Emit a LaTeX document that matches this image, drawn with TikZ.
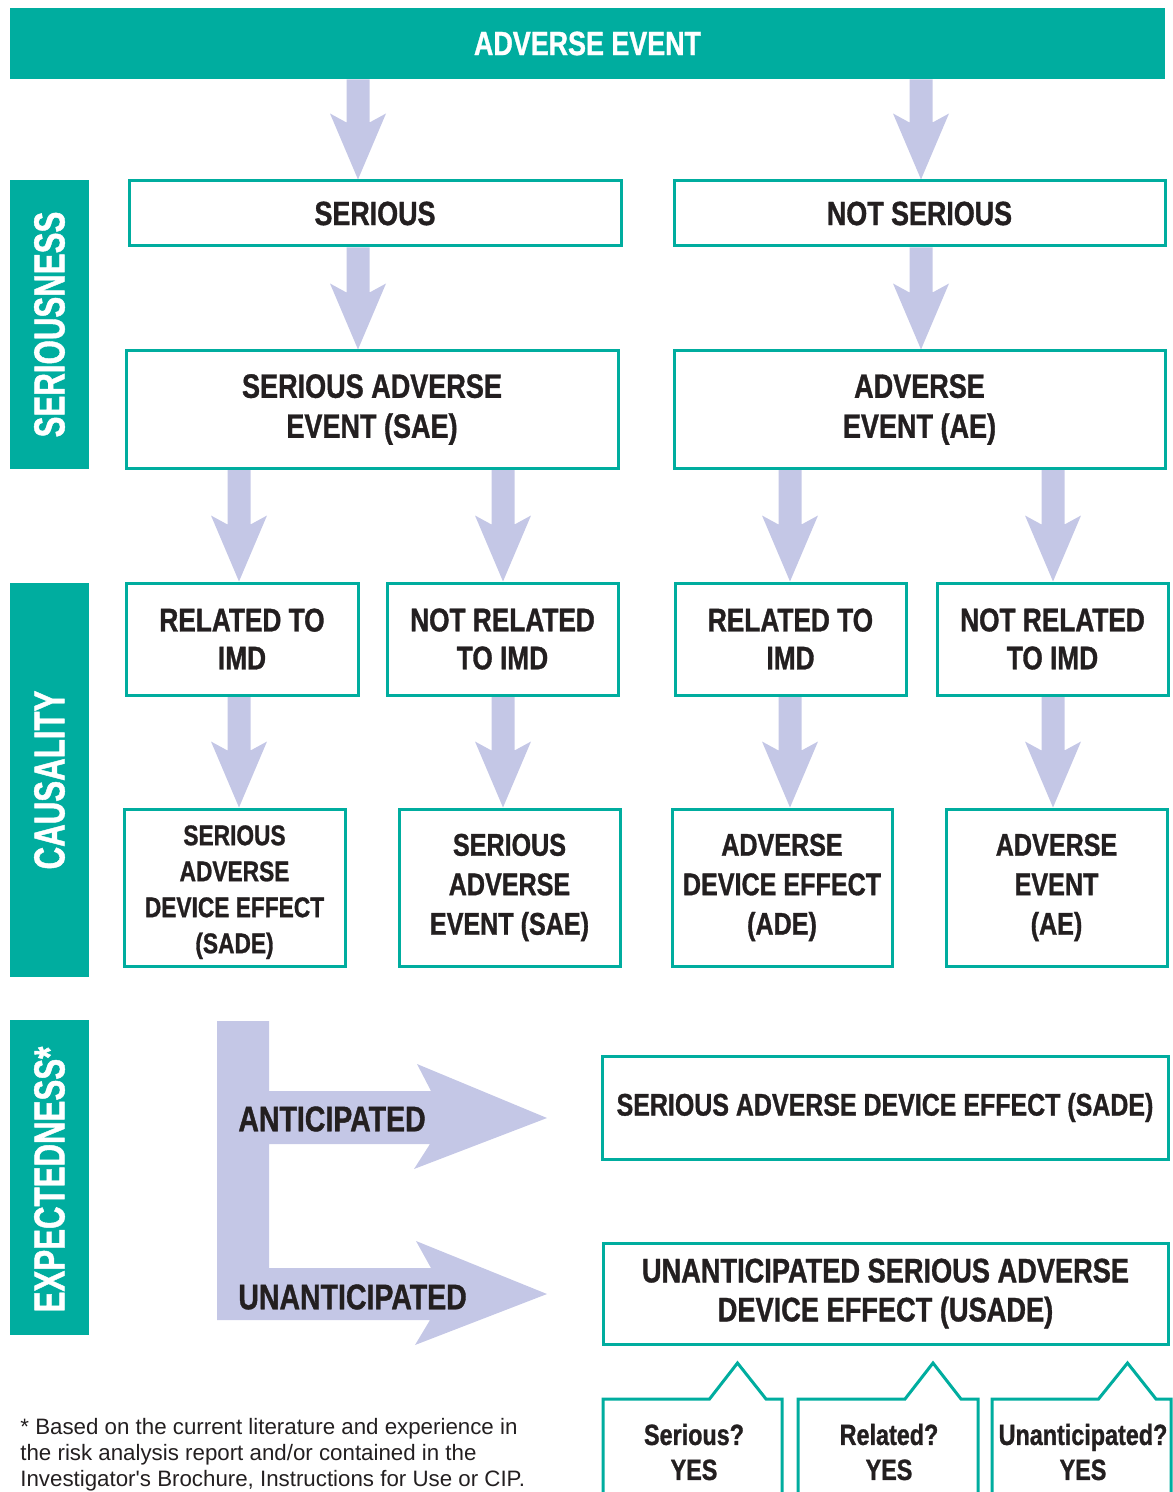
\documentclass[tikz,border=0pt]{standalone}
\usepackage{fontspec}
\setmainfont{Liberation Sans}
\newfontfamily\fa{Liberation Sans}[FakeStretch=0.8, BoldFeatures={FakeBold=1}]
\newfontfamily\fb{Liberation Sans}[FakeStretch=0.72, BoldFeatures={FakeBold=1}]
\usetikzlibrary{calc}
\definecolor{tealc}{RGB}{0,173,159}
\definecolor{arr}{RGB}{196,199,230}
\definecolor{ink}{RGB}{35,31,32}
\pgfdeclarelayer{bg}
\pgfsetlayers{bg,main}
\newcommand\fatarrow[2]{%
  \fill[arr] ($(#1)+(-11.5,0)$) -- ($(#2)+(-11.5,-57)$) -- ($(#2)+(-28,-66)$) -- (#2)
    -- ($(#2)+(28,-66)$) -- ($(#2)+(11.5,-57)$) -- ($(#1)+(11.5,0)$) -- cycle;}
% name, style, x1, y1, x2, y2, text
\newcommand\boxnode[7]{%
  \node[#2, minimum width={(#5-#3)*0.5pt}, minimum height={(#6-#4)*0.5pt}] (#1) at ({(#3+#5)/2},{(#4+#6)/2}) {#7};}
\tikzset{
  box/.style={draw=tealc, line width=1.5pt, fill=white, inner sep=0pt, align=center, text=ink},
  sidebar/.style={fill=tealc, draw=none, inner sep=0pt},
  sidelabel/.style={rotate=90, text=white, inner sep=0pt, font={\fb\bfseries\fontsize{21.7pt}{24pt}\selectfont}},
  ftop/.style={font={\fa\bfseries\fontsize{16.8pt}{20pt}\selectfont}},
  fmid/.style={font={\fa\bfseries\fontsize{16.4pt}{19pt}\selectfont}},
  flow/.style={font={\fa\bfseries\fontsize{15.7pt}{19.75pt}\selectfont}},
  fsmall/.style={font={\fa\bfseries\fontsize{14.2pt}{18pt}\selectfont}},
  callout/.style={draw=tealc, line width=1.5pt, fill=white, line join=miter},
  ctext/.style={text=ink, align=center, inner sep=0pt, font={\fa\bfseries\fontsize{14.6pt}{17.5pt}\selectfont}},
}
\begin{document}
\begin{tikzpicture}[x=0.5pt, y=-0.5pt]
\useasboundingbox (0,0) rectangle (1172,1492);
% banner and side bars
\boxnode{banner}{sidebar, text=white, font={\fa\bfseries\fontsize{16.8pt}{20pt}\selectfont}}{10}{8}{1165}{79}{ADVERSE EVENT}
\boxnode{sser}{sidebar}{10}{180}{89}{469}{}
\boxnode{scau}{sidebar}{10}{583}{89}{977}{}
\boxnode{sexp}{sidebar}{10}{1020}{89}{1335}{}
\node[sidelabel] (lser) at (sser.center) {SERIOUSNESS};
\node[sidelabel] (lcau) at (scau.center) {CAUSALITY};
\node[sidelabel] (lexp) at ($(sexp.center)+(0,2)$) {EXPECTEDNESS*};
% row 1
\boxnode{ser}{box, ftop}{129}{181}{621}{246}{SERIOUS}
\boxnode{nser}{box, ftop}{674}{181}{1165}{246}{NOT SERIOUS}
% row 2
\boxnode{sae}{box, font={\fa\bfseries\fontsize{16.9pt}{20pt}\selectfont}}{126}{351}{618}{468}{SERIOUS ADVERSE\\EVENT (SAE)}
\boxnode{ae}{box, font={\fa\bfseries\fontsize{16.9pt}{20pt}\selectfont}}{674}{351}{1165}{468}{ADVERSE\\EVENT (AE)}
% row 3
\boxnode{r1}{box, fmid}{126}{583}{358}{695}{RELATED TO\\IMD}
\boxnode{n1}{box, fmid}{387}{583}{618}{695}{NOT RELATED\\TO IMD}
\boxnode{r2}{box, fmid}{675}{583}{906}{695}{RELATED TO\\IMD}
\boxnode{n2}{box, fmid}{937}{583}{1168}{695}{NOT RELATED\\TO IMD}
% row 4
\boxnode{o1}{box, fsmall}{124}{809}{345}{966}{\rule{0pt}{14.6pt}SERIOUS\\ADVERSE\\DEVICE EFFECT\\(SADE)}
\boxnode{o2}{box, flow}{399}{809}{620}{966}{SERIOUS\\ADVERSE\\EVENT (SAE)}
\boxnode{o3}{box, flow}{672}{809}{892}{966}{ADVERSE\\DEVICE EFFECT\\(ADE)}
\boxnode{o4}{box, flow}{946}{809}{1167}{966}{ADVERSE\\EVENT\\(AE)}
% expectedness results
\boxnode{sade}{box, font={\fa\bfseries\fontsize{15.6pt}{19pt}\selectfont}}{602}{1056}{1168}{1159}{SERIOUS ADVERSE DEVICE EFFECT (SADE)}
\boxnode{usade}{box, font={\fa\bfseries\fontsize{17pt}{19.5pt}\selectfont}}{603}{1243}{1168}{1344}{UNANTICIPATED SERIOUS ADVERSE\\DEVICE EFFECT (USADE)}
% column coordinates
\coordinate (c1) at (358,0);
\coordinate (c2) at (921,0);
\coordinate (c3) at (239,0);
\coordinate (c4) at (503,0);
\coordinate (c5) at (790,0);
\coordinate (c6) at (1053,0);
\begin{pgfonlayer}{bg}
\fatarrow{banner.south -| c1}{ser.north -| c1}
\fatarrow{banner.south -| c2}{nser.north -| c2}
\fatarrow{ser.south -| c1}{sae.north -| c1}
\fatarrow{nser.south -| c2}{ae.north -| c2}
\fatarrow{sae.south -| c3}{r1.north -| c3}
\fatarrow{sae.south -| c4}{n1.north -| c4}
\fatarrow{ae.south -| c5}{r2.north -| c5}
\fatarrow{ae.south -| c6}{n2.north -| c6}
\fatarrow{r1.south -| c3}{o1.north -| c3}
\fatarrow{n1.south -| c4}{o2.north -| c4}
\fatarrow{r2.south -| c5}{o3.north -| c5}
\fatarrow{n2.south -| c6}{o4.north -| c6}
\end{pgfonlayer}
% L-shaped arrow
\fill[arr] (217,1021) -- (269,1021) -- (269,1091) -- (431,1091) -- (417,1064) -- (547,1118)
  -- (414,1169) -- (430,1144) -- (269,1144) -- (269,1268) -- (431,1268) -- (416,1241)
  -- (547,1294) -- (415,1345) -- (430,1320) -- (217,1320) -- cycle;
\node[anchor=west, inner sep=0pt, text=ink, font={\fa\bfseries\fontsize{17.8pt}{20pt}\selectfont}] (antic) at (238,1119) {ANTICIPATED};
\node[anchor=west, inner sep=0pt, text=ink, font={\fa\bfseries\fontsize{17.8pt}{20pt}\selectfont}] (unantic) at (238,1297) {UNANTICIPATED};
% callouts
\draw[callout] (603,1496) -- (603,1399) -- (709.5,1399) -- (737.5,1363) -- (766,1399) -- (782,1399) -- (782,1496);
\draw[callout] (798,1496) -- (798,1399) -- (905,1399) -- (933,1363) -- (961,1399) -- (978,1399) -- (978,1496);
\draw[callout] (992,1496) -- (992,1399) -- (1098.5,1399) -- (1127.5,1363) -- (1156,1399) -- (1171,1399) -- (1171,1496);
\node[ctext] (q1) at (694,1452) {Serious?\\YES};
\node[ctext] (q2) at (889,1452) {Related?\\YES};
\node[ctext] (q3) at (1083,1452) {Unanticipated?\\YES};
% footnote
\node[anchor=north west, inner sep=0pt, align=left, text=ink, font={\fontsize{11.15pt}{13pt}\selectfont}] (foot) at (20,1418) {* Based on the current literature and experience in\\the risk analysis report and/or contained in the\\Investigator\textquotesingle s Brochure, Instructions for Use or CIP.};
\end{tikzpicture}
\end{document}
